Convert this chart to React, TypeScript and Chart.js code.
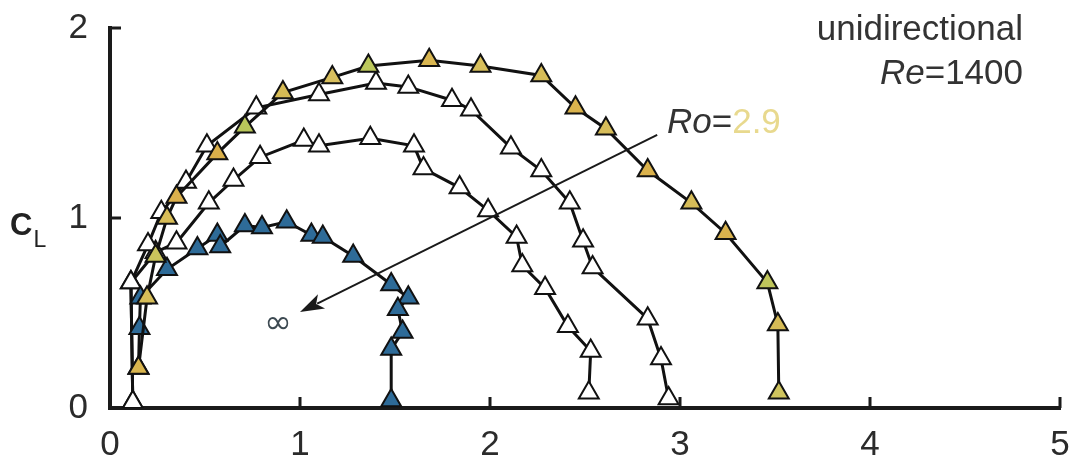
import React, { useEffect, useRef } from "react";
import { Chart, registerables } from "chart.js";

Chart.register(...registerables);

// ---- data ----
const xTickValues = [0, 1, 2, 3, 4, 5];
const yTickValues = [0, 1, 2];

// Ro = 2.9 (yellow)
const ro29X = [0.15, 0.195, 0.24, 0.3, 0.35, 0.565, 0.71, 0.91, 1.17, 1.36, 1.68, 1.95, 2.27, 2.45, 2.61, 2.83, 3.06, 3.24, 3.46, 3.515, 3.52];
const ro29Y = [0.21, 0.58, 0.8, 1.0, 1.11, 1.34, 1.48, 1.66, 1.74, 1.8, 1.83, 1.8, 1.75, 1.58, 1.47, 1.25, 1.08, 0.92, 0.66, 0.44, 0.08];
const ro29Fill = ["#d9b54e", "#d6bd58", "#c9c45c", "#d8bd57", "#dcb04c", "#dab04a", "#b9c65a", "#d6bb55", "#d8bf5e", "#bcc85c", "#d9b651", "#d7bf5c", "#d6bc58", "#dab34d", "#d7bd5a", "#dab14b", "#d6bc58", "#d9b24d", "#bfc55b", "#d6bb56", "#cfc45e"];

// intermediate Ro (white, outer)
const whiteAX = [0.12, 0.11, 0.2, 0.27, 0.4, 0.51, 0.77, 1.1, 1.4, 1.57, 1.8, 1.9, 2.11, 2.27, 2.42, 2.49, 2.54, 2.83, 2.9, 2.94];
const whiteAY = [0.03, 0.66, 0.86, 1.03, 1.19, 1.38, 1.58, 1.65, 1.71, 1.69, 1.62, 1.57, 1.37, 1.25, 1.08, 0.88, 0.74, 0.47, 0.26, 0.05];

// intermediate Ro (white, inner)
const whiteBX = [0.12, 0.11, 0.24, 0.35, 0.52, 0.65, 0.79, 1.02, 1.1, 1.37, 1.6, 1.65, 1.84, 1.99, 2.14, 2.17, 2.29, 2.41, 2.53, 2.52];
const whiteBY = [0.03, 0.66, 0.82, 0.87, 1.08, 1.2, 1.32, 1.41, 1.38, 1.42, 1.38, 1.26, 1.16, 1.04, 0.9, 0.75, 0.63, 0.43, 0.3, 0.08];

// Ro = infinity (blue)
const roInfX = [0.15, 0.155, 0.16, 0.3, 0.46, 0.565, 0.58, 0.71, 0.8, 0.93, 1.06, 1.12, 1.28, 1.48, 1.57, 1.515, 1.54, 1.48, 1.48];
const roInfY = [0.21, 0.42, 0.58, 0.73, 0.84, 0.91, 0.85, 0.96, 0.95, 0.98, 0.91, 0.9, 0.8, 0.65, 0.58, 0.52, 0.4, 0.31, 0.04];

// arrow (data coords): from -> to
const arrowFrom = [2.88, 1.437];
const arrowTo = [1.0, 0.505];

const FONT = '"Liberation Sans", Arial, Helvetica, sans-serif';

function toPoints(xs: number[], ys: number[]) {
  return xs.map((x, i) => ({ x, y: ys[i] }));
}

const annotPlugin = {
  id: "annot",
  afterDraw(chart: any) {
    const { ctx, scales, chartArea } = chart;
    const xs = scales.x;
    const ys = scales.y;
    ctx.save();
    // inward ticks
    ctx.strokeStyle = "#1a1a1a";
    ctx.lineWidth = 3;
    ctx.beginPath();
    xTickValues.forEach((v) => {
      if (v === 0) return;
      const px = xs.getPixelForValue(v);
      ctx.moveTo(px, chartArea.bottom);
      ctx.lineTo(px, chartArea.bottom - 11);
    });
    yTickValues.forEach((v) => {
      if (v === 0) return;
      const py = ys.getPixelForValue(v);
      ctx.moveTo(chartArea.left, py);
      ctx.lineTo(chartArea.left + 11, py);
    });
    ctx.stroke();

    // arrow
    const ax0 = xs.getPixelForValue(arrowFrom[0]);
    const ay0 = ys.getPixelForValue(arrowFrom[1]);
    const ax1 = xs.getPixelForValue(arrowTo[0]);
    const ay1 = ys.getPixelForValue(arrowTo[1]);
    const ang = Math.atan2(ay1 - ay0, ax1 - ax0);
    const headLen = 24;
    const headW = 8;
    ctx.strokeStyle = "#1a1a1a";
    ctx.lineWidth = 2;
    ctx.beginPath();
    ctx.moveTo(ax0, ay0);
    ctx.lineTo(ax1 - Math.cos(ang) * headLen * 0.8, ay1 - Math.sin(ang) * headLen * 0.8);
    ctx.stroke();
    ctx.fillStyle = "#1a1a1a";
    ctx.beginPath();
    ctx.moveTo(ax1, ay1);
    ctx.lineTo(
      ax1 - Math.cos(ang) * headLen - Math.sin(ang) * headW,
      ay1 - Math.sin(ang) * headLen + Math.cos(ang) * headW
    );
    ctx.lineTo(ax1 - Math.cos(ang) * headLen * 0.75, ay1 - Math.sin(ang) * headLen * 0.75);
    ctx.lineTo(
      ax1 - Math.cos(ang) * headLen + Math.sin(ang) * headW,
      ay1 - Math.sin(ang) * headLen - Math.cos(ang) * headW
    );
    ctx.closePath();
    ctx.fill();

    // texts
    ctx.textBaseline = "alphabetic";
    const drawParts = (parts: { t: string; f: string; c: string }[], x: number, y: number, align: "left" | "right") => {
      let total = 0;
      parts.forEach((p) => {
        ctx.font = p.f;
        total += ctx.measureText(p.t).width;
      });
      let cx = align === "right" ? x - total : x;
      ctx.textAlign = "left";
      parts.forEach((p) => {
        ctx.font = p.f;
        ctx.fillStyle = p.c;
        ctx.fillText(p.t, cx, y);
        cx += ctx.measureText(p.t).width;
      });
    };
    const txt = "#333333";
    drawParts([{ t: "unidirectional", f: `35px ${FONT}`, c: txt }], 1023, 40, "right");
    drawParts(
      [
        { t: "Re", f: `italic 35px ${FONT}`, c: txt },
        { t: "=1400", f: `35px ${FONT}`, c: txt },
      ],
      1023,
      84,
      "right"
    );
    drawParts(
      [
        { t: "Ro", f: `italic 35px ${FONT}`, c: txt },
        { t: "=", f: `35px ${FONT}`, c: txt },
        { t: "2.9", f: `35px ${FONT}`, c: "#e8d98e" },
      ],
      667,
      133,
      "left"
    );
    // infinity
    ctx.font = `33px "DejaVu Sans", ${FONT}`;
    ctx.fillStyle = "#3d4a52";
    ctx.textAlign = "center";
    ctx.textBaseline = "middle";
    ctx.fillText("∞", 278, 324);

    // y-axis title C_L
    ctx.textAlign = "left";
    ctx.textBaseline = "alphabetic";
    ctx.fillStyle = "#222";
    ctx.font = `bold 31px ${FONT}`;
    ctx.fillText("C", 10, 235);
    const cw = ctx.measureText("C").width;
    ctx.font = `23px ${FONT}`;
    ctx.fillText("L", 10 + cw + 1, 247);
    ctx.restore();
  },
};

export default function App() {
  const ref = useRef<HTMLCanvasElement | null>(null);
  useEffect(() => {
    document.body.style.margin = "0";
    const canvas = ref.current;
    if (!canvas) return;
    const mk = (label: string, xs: number[], ys: number[], fill: any, order: number) => ({
      label,
      data: toPoints(xs, ys),
      showLine: true,
      borderColor: "#111",
      borderWidth: 3,
      pointStyle: "triangle",
      pointRadius: 11.5,
      pointBorderWidth: 2,
      pointBorderColor: "#111",
      pointBackgroundColor: fill,
      tension: 0,
      order,
    });
    const chart = new Chart(canvas, {
      type: "scatter",
      data: {
        datasets: [
          mk("Ro=2.9", ro29X, ro29Y, ro29Fill, 1),
          mk("Ro=∞", roInfX, roInfY, "#2e6b98", 2),
          mk("Ro A", whiteAX, whiteAY, "#ffffff", 3),
          mk("Ro B", whiteBX, whiteBY, "#ffffff", 4),
        ] as any,
      },
      options: {
        animation: false,
        responsive: false,
        maintainAspectRatio: false,
        layout: { padding: { top: 28, right: 21, left: 0, bottom: 0 } },
        plugins: { legend: { display: false }, tooltip: { enabled: false } },
        scales: {
          x: {
            type: "linear",
            min: 0,
            max: 5,
            afterFit: (s: any) => {
              s.height = 58;
              s.paddingLeft = 0;
              s.paddingRight = 0;
            },
            afterBuildTicks: (s: any) => {
              s.ticks = xTickValues.map((v) => ({ value: v }));
            },
            grid: { display: false },
            border: { display: true, width: 4, color: "#1a1a1a" },
            ticks: { font: { size: 35, family: FONT }, color: "#2b2b2b", padding: 8, maxRotation: 0 },
          },
          y: {
            type: "linear",
            min: 0,
            max: 2,
            afterFit: (s: any) => {
              s.width = 110;
              s.paddingTop = 0;
              s.paddingBottom = 0;
            },
            afterBuildTicks: (s: any) => {
              s.ticks = yTickValues.map((v) => ({ value: v }));
            },
            grid: { display: false },
            border: { display: true, width: 4, color: "#1a1a1a" },
            ticks: { font: { size: 35, family: FONT }, color: "#2b2b2b", padding: 14 },
          },
        },
      },
      plugins: [annotPlugin],
    });
    return () => chart.destroy();
  }, []);
  return (
    <div style={{ width: 1081, height: 466, background: "#fff" }}>
      <canvas ref={ref} width={1081} height={466} style={{ display: "block" }} />
    </div>
  );
}
